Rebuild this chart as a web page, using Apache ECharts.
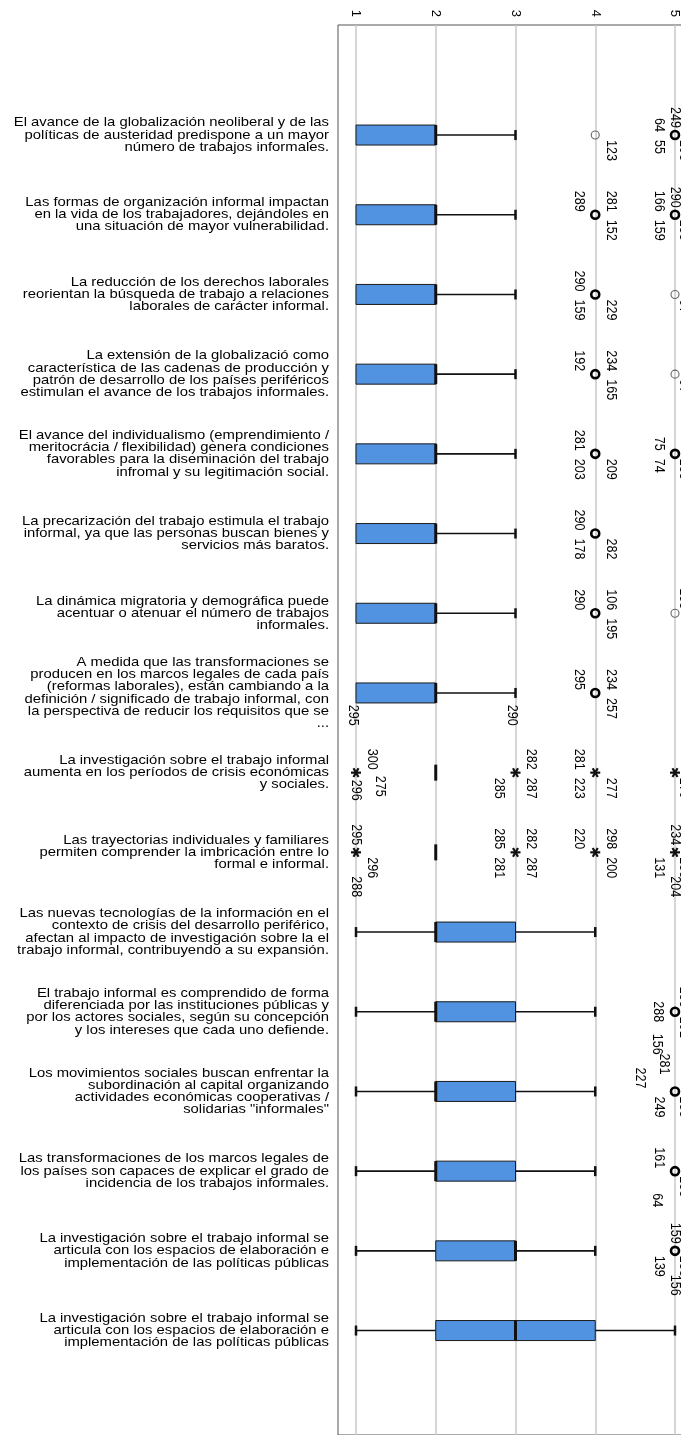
<!DOCTYPE html>
<html><head><meta charset="utf-8">
<script src="https://cdn.jsdelivr.net/npm/echarts@6/dist/echarts.min.js"></script>
<style>html,body{margin:0;padding:0;background:#fff;overflow:hidden}#c{width:693px;height:1435px}</style>
</head><body><div id="c"></div>
<script>
// ---------- DATA ----------
const categories = [
  "El avance de la globalización neoliberal y de las\npolíticas de austeridad predispone a un mayor\nnúmero de trabajos informales.",
  "Las formas de organización informal impactan\nen la vida de los trabajadores, dejándoles en\nuna situación de mayor vulnerabilidad.",
  "La reducción de los derechos laborales\nreorientan la búsqueda de trabajo a relaciones\nlaborales de carácter informal.",
  "La extensión de la globalizació como\ncaracterística de las cadenas de producción y\npatrón de desarrollo de los países periféricos\nestimulan el avance de los trabajos informales.",
  "El avance del individualismo (emprendimiento /\nmeritocrácia / flexibilidad) genera condiciones\nfavorables para la diseminación del trabajo\ninfromal y su legitimación social.",
  "La precarización del trabajo estimula el trabajo\ninformal, ya que las personas buscan bienes y\nservicios más baratos.",
  "La dinámica migratoria y demográfica puede\nacentuar o atenuar el número de trabajos\ninformales.",
  "A medida que las transformaciones se\nproducen en los marcos legales de cada país\n(reformas laborales), están cambiando a la\ndefinición / significado de trabajo informal, con\nla perspectiva de reducir los requisitos que se\n...",
  "La investigación sobre el trabajo informal\naumenta en los períodos de crisis económicas\ny sociales.",
  "Las trayectorias individuales y familiares\npermiten comprender la imbricación entre lo\nformal e informal.",
  "Las nuevas tecnologías de la información en el\ncontexto de crisis del desarrollo periférico,\nafectan al impacto de investigación sobre la el\ntrabajo informal, contribuyendo a su expansión.",
  "El trabajo informal es comprendido de forma\ndiferenciada por las instituciones públicas y\npor los actores sociales, según su concepción\ny los intereses que cada uno defiende.",
  "Los movimientos sociales buscan enfrentar la\nsubordinación al capital organizando\nactividades económicas cooperativas /\nsolidarias \"informales\"",
  "Las transformaciones de los marcos legales de\nlos países son capaces de explicar el grado de\nincidencia de los trabajos informales.",
  "La investigación sobre el trabajo informal se\narticula con los espacios de elaboración e\nimplementación de las políticas públicas",
  "La investigación sobre el trabajo informal se\narticula con los espacios de elaboración e\nimplementación de las políticas públicas"
];
const tickValues = [1, 2, 3, 4, 5];
const whiskerLow  = [1,1,1,1,1,1,1,1,2,2,1,1,1,1,1,1];
const quartile1   = [1,1,1,1,1,1,1,1,2,2,2,2,2,2,2,2];
const medianVal   = [2,2,2,2,2,2,2,2,2,2,2,2,2,2,3,3];
const quartile3   = [2,2,2,2,2,2,2,2,2,2,3,3,3,3,3,4];
const whiskerHigh = [3,3,3,3,3,3,3,3,2,2,4,4,4,4,4,5];

// outliers: category index, value, mark ('o' circle, '*' extreme), case ids
const outlierCategory = [0,0,1,1,2,2,3,3,4,4,5,6,6,7,8,8,8,8,9,9,9,9,11,12,13,14];
const outlierValue    = [4,5,4,5,4,5,4,5,4,5,4,4,5,4,1,3,4,5,1,3,4,5,5,5,5,5];
const outlierMark     = ['o','o','o','o','o','o','o','o','o','o','o','o','o','o','*','*','*','*','*','*','*','*','o','o','o','o'];
const outlierCases = [
  ['123'], ['249','64','55','293'],
  ['289','281','152'], ['290','166','159','255'],
  ['290','159','229'], ['97'],
  ['192','234','165'], ['97'],
  ['281','203','209'], ['75','74','235'],
  ['290','178','282'],
  ['290','106','195'], ['155'],
  ['295','234','257'],
  ['295','300','275','296'], ['290','282','287','285'], ['281','223','277'], ['279'],
  ['295','296','288'], ['285','282','287','281'], ['220','298','200'], ['234','131','204','255'],
  ['288','156','255','291'], ['281','227','249','233'], ['161','64','233'], ['159','139','156','233']
];

// ---------- STYLE: where each case label sits around its mark ----------
const labelSlots = [
  ['dr'], ['u','ul','dl','dc'],
  ['ul','ur','dr'], ['u','ul','dl','dc'],
  ['ul','dl','dr'], ['dc'],
  ['ul','ur','dr'], ['dc'],
  ['ul','dl','dr'], ['ul','dl','dc'],
  ['ul','dl','dr'],
  ['ul','ur','dr'], ['uc'],
  ['ul','ur','dr'],
  ['uu','ur','dr2','d'], ['uu','ur','dr','dl'], ['ul','dl','dr'], ['dc'],
  ['u','dr','dd'], ['ul','ur','dr','dl'], ['ul','ur','dr'], ['u','dl','dd','dc'],
  ['l','dld','uc','dc'], ['ulu','ull','dl','dc'], ['ul','dld','dc'], ['u','dl','dd','dc']
];
const SLOT = {
  u:[0,-7,'right'], d:[0,7,'left'], dd:[0,24,'left'], uu:[-3,-47,'right'],
  ul:[-16,-3,'right'], ur:[16,-3,'right'], dl:[-16,5,'left'], dr:[16,5,'left'],
  dr2:[24,3,'left'], l:[-17,0,'center'], ull:[-35,-3,'right'], ulu:[-11,-17,'right'],
  dld:[-18,22,'left'], uc:[9,-4,'right'], dc:[9,5,'left']
};

const FONT = "'Liberation Sans', Arial, sans-serif";
const STRETCH = 1.17;          // the picture is widened horizontally
const UNIT = 79.75;
const XMIN = 1 - 18 / UNIT, XMAX = 5 + 18 / UNIT;
const BOX_H = 20;

function seg(x1, y1, x2, y2, w) {
  return {type:'line', shape:{x1, y1, x2, y2}, style:{stroke:'#111', lineWidth:w}};
}

function renderBox(params, api) {
  const c = api.value(0);
  const lo = api.value(1), a = api.value(2), m = api.value(3), b = api.value(4), hi = api.value(5);
  const pLo = api.coord([lo, c]), pA = api.coord([a, c]), pM = api.coord([m, c]);
  const pB = api.coord([b, c]), pHi = api.coord([hi, c]);
  const y = pM[1];
  const kids = [];
  if (lo < a) { kids.push(seg(pLo[0], y, pA[0], y, 1.6)); kids.push(seg(pLo[0], y - 5, pLo[0], y + 5, 2.5)); }
  if (hi > b) { kids.push(seg(pB[0], y, pHi[0], y, 1.6)); kids.push(seg(pHi[0], y - 5, pHi[0], y + 5, 2.5)); }
  if (b > a) {
    kids.push({type:'rect', shape:{x:pA[0], y:y - BOX_H / 2, width:pB[0] - pA[0], height:BOX_H},
      style:{fill:'#5192e1', stroke:'#1a1a1a', lineWidth:1}});
    kids.push(seg(pM[0], y - BOX_H / 2, pM[0], y + BOX_H / 2, 3));
  } else {
    kids.push(seg(pM[0], y - 8, pM[0], y + 8, 3));
  }
  return {type:'group', children:kids};
}

function renderOutlier(params, api) {
  const v = api.value(0), c = api.value(1), idx = api.value(2);
  const p = api.coord([v, c]);
  const kids = [];
  const ids = outlierCases[idx];
  if (outlierMark[idx] === 'o') {
    const multi = ids.length > 1;
    kids.push({type:'circle', shape:{cx:p[0], cy:p[1], r:4},
      style:{fill:'none', stroke:multi ? '#000' : '#666', lineWidth:multi ? 2.6 : 1.1}});
  } else {
    for (let k = 0; k < 3; k++) {
      const ang = k * Math.PI / 3;
      const dx = Math.cos(ang) * 5, dy = Math.sin(ang) * 5;
      kids.push(seg(p[0] - dx, p[1] - dy, p[0] + dx, p[1] + dy, 2.2));
    }
  }
  ids.forEach((id, j) => {
    const s = SLOT[labelSlots[idx][j]];
    kids.push({type:'text', x:p[0] + s[0], y:p[1] + s[1], rotation:-Math.PI / 2, scaleY:STRETCH,
      style:{text:id, fill:'#000', fontSize:12.6, fontFamily:FONT, align:s[2], verticalAlign:'middle'}});
  });
  return {type:'group', children:kids};
}

function renderCategoryLabel(params, api) {
  const i = api.value(0);
  const p = api.coord([XMIN, i]);
  return {type:'text', x:p[0] - 9, y:p[1], scaleX:STRETCH,
    style:{text:categories[i], fill:'#000', fontSize:12.7, lineHeight:12.2, fontFamily:FONT,
      align:'right', verticalAlign:'middle'}};
}

const chart = echarts.init(document.getElementById('c'), null, {renderer:'canvas'});
chart.setOption({
  animation:false,
  backgroundColor:'#fff',
  grid:[
    {left:338, top:25, right:0, bottom:-2, show:true, borderColor:'#555', borderWidth:1, backgroundColor:'transparent'},
    {left:338, top:95.2, right:0, bottom:64.6}
  ],
  xAxis:[
    {gridIndex:0, type:'value', position:'top', min:XMIN, max:XMAX,
      axisLine:{show:false},
      axisTick:{show:false, customValues:tickValues},
      axisLabel:{customValues:tickValues, rotate:-90, fontSize:13, fontFamily:FONT, color:'#000', margin:8},
      splitLine:{show:true, lineStyle:{color:'#c8c8c8', width:1.5}}},
    {gridIndex:1, type:'value', min:XMIN, max:XMAX, show:false}
  ],
  yAxis:[
    {gridIndex:0, type:'value', min:0, max:1, show:false},
    {gridIndex:1, type:'category', inverse:true, data:categories,
      axisLine:{show:false}, axisTick:{show:false}, splitLine:{show:false}, axisLabel:{show:false}}
  ],
  series:[
    {type:'custom', xAxisIndex:1, yAxisIndex:1, z:3, renderItem:renderBox,
      encode:{x:[1,2,3,4,5], y:0},
      data:categories.map((_, i) => [i, whiskerLow[i], quartile1[i], medianVal[i], quartile3[i], whiskerHigh[i]])},
    {type:'custom', xAxisIndex:1, yAxisIndex:1, z:4, renderItem:renderOutlier,
      encode:{x:0, y:1},
      data:outlierValue.map((v, i) => [v, outlierCategory[i], i])},
    {type:'custom', xAxisIndex:1, yAxisIndex:1, z:4, renderItem:renderCategoryLabel, clip:false,
      encode:{y:0},
      data:categories.map((_, i) => [i])}
  ]
});
</script>
</body></html>
